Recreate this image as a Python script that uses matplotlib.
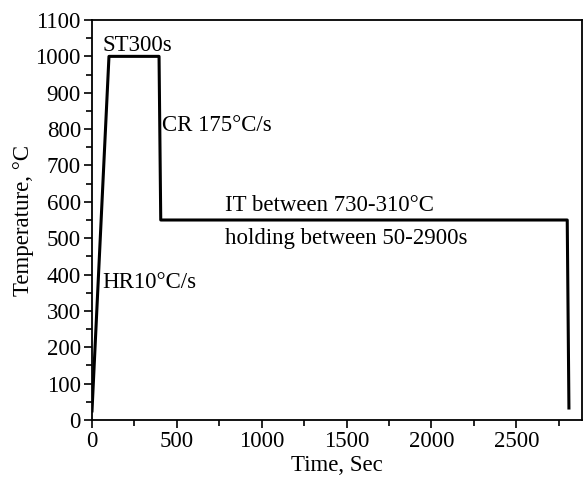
import numpy as np
import matplotlib.pyplot as plt
from matplotlib.ticker import MultipleLocator

plt.rcParams['font.family'] = ['Liberation Serif', 'DejaVu Serif']

# heat treatment cycle (time in s, temperature in °C)
time = [0, 100, 395, 405, 2800, 2810]
temp = [25, 1000, 1000, 550, 550, 33]

labels = ['ST300s', 'CR 175°C/s', 'IT between 730-310°C',
          'holding between 50-2900s', 'HR10°C/s']
label_x = [62, 415, 784, 784, 62]
label_y = [1030, 811, 589, 500, 377]

fs = 16.5

fig = plt.figure(figsize=(5.83, 4.84), dpi=100)
ax = fig.add_axes([92 / 583, 64 / 484, 490 / 583, 400 / 484])

ax.plot(time, temp, color='black', linewidth=2.2)

for t, x, y in zip(labels, label_x, label_y):
    ax.text(x, y, t, fontsize=fs, va='center', ha='left')

ax.set_xlim(0, 2887)
ax.set_ylim(0, 1100)
ax.xaxis.set_major_locator(MultipleLocator(500))
ax.xaxis.set_minor_locator(MultipleLocator(250))
ax.yaxis.set_major_locator(MultipleLocator(100))
ax.yaxis.set_minor_locator(MultipleLocator(50))
ax.tick_params(which='both', direction='out', width=1.2, labelsize=fs)
ax.tick_params(which='major', length=6, pad=2)
ax.tick_params(which='minor', length=4)
for s in ax.spines.values():
    s.set_linewidth(1.3)

ax.set_xlabel('Time, Sec', fontsize=fs, labelpad=2)
ax.set_ylabel('Temperature, °C', fontsize=fs, labelpad=1)

fig.savefig('out.png', dpi=100)
